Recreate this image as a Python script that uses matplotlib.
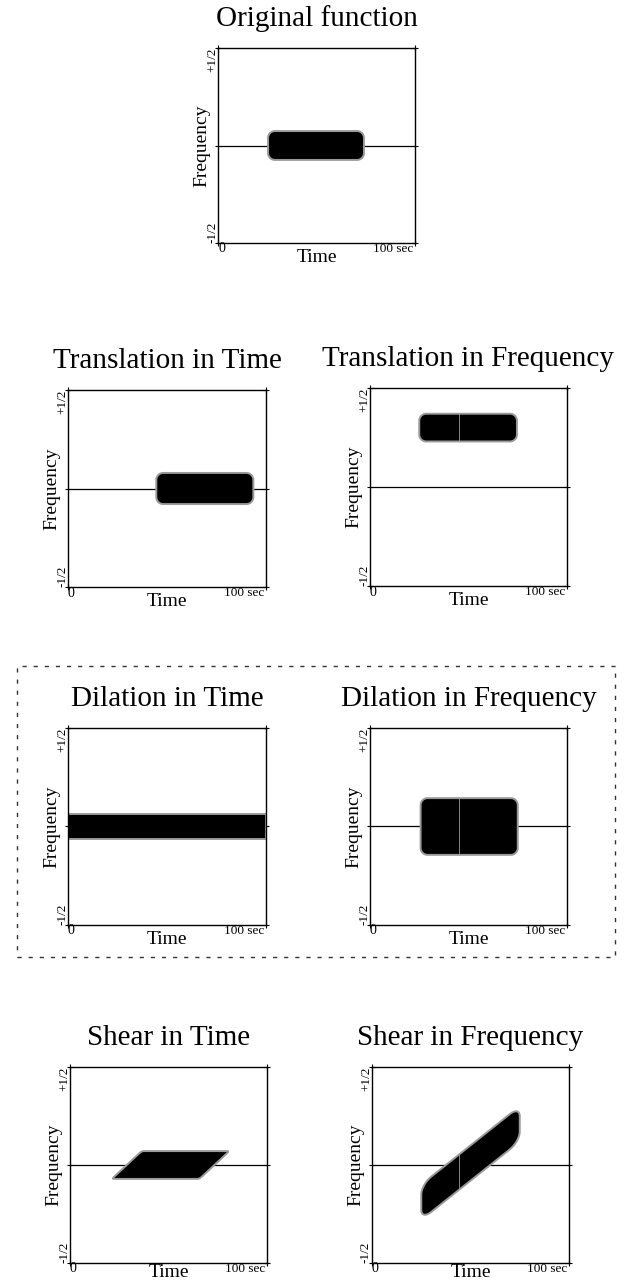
import numpy as np
import matplotlib
matplotlib.use("Agg")
import matplotlib.pyplot as plt
from matplotlib.patches import Rectangle

plt.rcParams['font.family'] = ['Liberation Serif', 'DejaVu Serif']

# panel titles, in drawing order
titles = ['Original function',
          'Translation in Time', 'Translation in Frequency',
          'Dilation in Time', 'Dilation in Frequency',
          'Shear in Time', 'Shear in Frequency']

# extent of the time-frequency blob in each panel (time in sec, freq in cycles)
t_start = [25.4, 44.6, 25.0, 0.0, 25.7, 28.8, 25.0]
t_end = [74.1, 93.6, 74.6, 100.0, 75.0, 73.3, 75.0]
f_center = [0.0, 0.0, 0.30, 0.0, 0.0, 0.0, 0.01]
f_half = [0.074, 0.079, 0.07, 0.065, 0.144, 0.071, 0.09]
time_shear = [0, 0, 0, 0, 0, 107, 0]       # sec per unit freq
freq_shear = [0, 0, 0, 0, 0, 0, 0.008]     # freq per sec
corner_t = [3.5, 3.5, 3.5, 0, 3.5, 1, 5]
corner_f = [0.035, 0.035, 0.035, 0, 0.035, 0.01, 0.05]
seam_t = [None, None, 45, None, 45, None, 44]

# axes boxes in pixels: left, top, width, height
W, H = 626, 1282
boxes = [(218, 48, 197, 195),
         (68, 390, 198, 197), (370, 388, 197, 198),
         (68, 728, 198, 197), (370, 728, 197, 197),
         (70, 1067, 197, 196), (372, 1067, 197, 196)]


def rounded_rect(t0, t1, f0, f1, rt, rf, n=10):
    if rt == 0 or rf == 0:
        return np.array([t0, t1, t1, t0]), np.array([f0, f0, f1, f1])
    a = np.linspace(0, np.pi / 2, n)
    ts, fs = [], []
    for cx, cy, start in [(t1 - rt, f1 - rf, 0), (t0 + rt, f1 - rf, np.pi / 2),
                          (t0 + rt, f0 + rf, np.pi), (t1 - rt, f0 + rf, 1.5 * np.pi)]:
        ts.extend(cx + rt * np.cos(start + a))
        fs.extend(cy + rf * np.sin(start + a))
    return np.array(ts), np.array(fs)


fig = plt.figure(figsize=(W / 100, H / 100), dpi=100)

for i, title in enumerate(titles):
    l, t, w, h = boxes[i]
    ax = fig.add_axes([l / W, 1 - (t + h) / H, w / W, h / H])
    ax.set_xlim(0, 100)
    ax.set_ylim(-0.5, 0.5)
    for s in ax.spines.values():
        s.set_linewidth(1.0)
    ax.set_xticks([0, 100])
    ax.set_yticks([-0.5, 0, 0.5])
    ax.tick_params(direction='inout', length=5, width=0.8, top=True, right=True,
                   labelbottom=False, labelleft=False)
    ax.axhline(0, color='black', lw=0.9, zorder=1)

    ts, fs = rounded_rect(t_start[i], t_end[i], f_center[i] - f_half[i],
                          f_center[i] + f_half[i], corner_t[i], corner_f[i])
    ts2 = ts + time_shear[i] * (fs - f_center[i])
    fs2 = fs + freq_shear[i] * (ts - 50)
    patch = ax.fill(ts2, fs2, facecolor='black', edgecolor='#9a9a9a', lw=1.4, zorder=2)[0]
    if seam_t[i] is not None:
        ln, = ax.plot([seam_t[i], seam_t[i]], [-0.5, 0.5], color='#9a9a9a', lw=0.6, zorder=3)
        ln.set_clip_path(patch)

    kw = dict(xycoords='axes fraction', textcoords='offset pixels')
    ax.annotate(title, xy=(0.5, 1), xytext=(0, 29), ha='center', va='center',
                fontsize=21, **kw)
    ax.annotate('Frequency', xy=(0, 0.5), xytext=(-16, 0), ha='center', va='center',
                rotation=90, fontsize=14, **kw)
    ax.annotate('+1/2', xy=(0, 1), xytext=(-6, 0), ha='center', va='top',
                rotation=90, fontsize=9.5, **kw)
    ax.annotate('-1/2', xy=(0, 0), xytext=(-6, 0), ha='center', va='bottom',
                rotation=90, fontsize=9.5, **kw)
    ax.annotate('0', xy=(0, 0), xytext=(0, -6), ha='left', va='center',
                fontsize=10, **kw)
    # bottom row sits at the page edge, keep its label inside
    if i >= 5:
        ax.annotate('Time', xy=(0.5, 0), xytext=(0, -18), ha='center', va='bottom',
                    fontsize=14, **kw)
    else:
        ax.annotate('Time', xy=(0.5, 0), xytext=(0, -14), ha='center', va='center',
                    fontsize=14, **kw)
    ax.annotate('100 sec', xy=(1, 0), xytext=(-2, -6), ha='right', va='center',
                fontsize=9.5, **kw)

# dotted frame around the dilation row
fx0, fy0, fx1, fy1 = 17, 666, 615, 957
fig.patches.append(Rectangle((fx0 / W, 1 - fy1 / H), (fx1 - fx0) / W, (fy1 - fy0) / H,
                             transform=fig.transFigure, fill=False, color='#333333',
                             lw=1.0, linestyle=(0, (3, 5))))

fig.savefig('out.png', dpi=100)
